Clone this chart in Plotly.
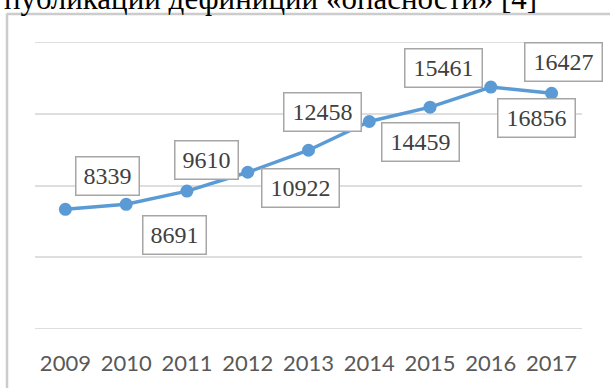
import plotly.graph_objects as go

years = ["2009", "2010", "2011", "2012", "2013", "2014", "2015", "2016", "2017"]
values = [8339, 8691, 9610, 10922, 12458, 14459, 15461, 16856, 16427]
caption = "публикаций дефиниций «опасности» [4]"

# label box offsets (pixels) relative to each point: (xshift, yshift)
label_offsets = [(42, 33), (48, -31), (20, 31), (53, -16), (14, 38),
                 (51, -20), (13, 39), (46, -31), (12, 31)]

W, H = 610, 388
ml, mr, mt, mb = 35, 28, 42, 55
pw = W - ml - mr
ph = H - mt - mb


def px_to_paper_x(px):
    return (px - ml) / pw


def px_to_paper_y(py):
    return (H - mb - py) / ph


fig = go.Figure()
fig.add_trace(go.Scatter(
    x=years, y=values, mode="lines+markers",
    line=dict(color="#5b9bd5", width=3.5),
    marker=dict(color="#5b9bd5", size=13),
    hoverinfo="skip", showlegend=False,
))

annotations = []
for i, (v, (dx, dy)) in enumerate(zip(values, label_offsets)):
    txt = f"{v}"
    annotations.append(dict(
        x=i, y=v, xref="x", yref="y", text=txt, showarrow=False,
        xshift=dx, yshift=dy,
        font=dict(family="Liberation Serif", size=24, color="#404040"),
        bgcolor="white", bordercolor="#a6a6a6", borderwidth=1.5,
        borderpad=0, width=62 if len(txt) == 4 else 76, height=37,
    ))

annotations.append(dict(
    x=px_to_paper_x(2), y=px_to_paper_y(18), xref="paper", yref="paper",
    xanchor="left", yanchor="bottom", text=caption, showarrow=False,
    font=dict(family="Liberation Serif", size=31, color="#000000"),
))

shapes = [
    dict(type="line", xref="paper", yref="paper",
         x0=px_to_paper_x(7), x1=px_to_paper_x(7),
         y0=px_to_paper_y(400), y1=px_to_paper_y(13),
         line=dict(color="#cccccc", width=2.5)),
    dict(type="line", xref="paper", yref="paper",
         x0=px_to_paper_x(7), x1=px_to_paper_x(620),
         y0=px_to_paper_y(13.5), y1=px_to_paper_y(13.5),
         line=dict(color="#cccccc", width=2.5)),
]
for gv in (0, 20000):
    shapes.append(dict(type="line", xref="paper", yref="y", x0=0, x1=1,
                       y0=gv, y1=gv, layer="below",
                       line=dict(color="#dedede", width=2)))

fig.update_layout(
    width=W, height=H,
    margin=dict(l=ml, r=mr, t=mt, b=mb),
    paper_bgcolor="white", plot_bgcolor="white",
    annotations=annotations, shapes=shapes,
    xaxis=dict(type="category", range=[-0.5, 8.5], showgrid=False,
               showline=False, zeroline=False, ticks="outside", ticklen=15,
               tickcolor="rgba(0,0,0,0)",
               tickfont=dict(family="Lato", size=22, color="#595959")),
    yaxis=dict(range=[0, 20000], dtick=5000, showgrid=True,
               gridcolor="#dedede", gridwidth=2, showticklabels=False,
               zeroline=False, showline=False),
)

fig.write_html("out.html")
